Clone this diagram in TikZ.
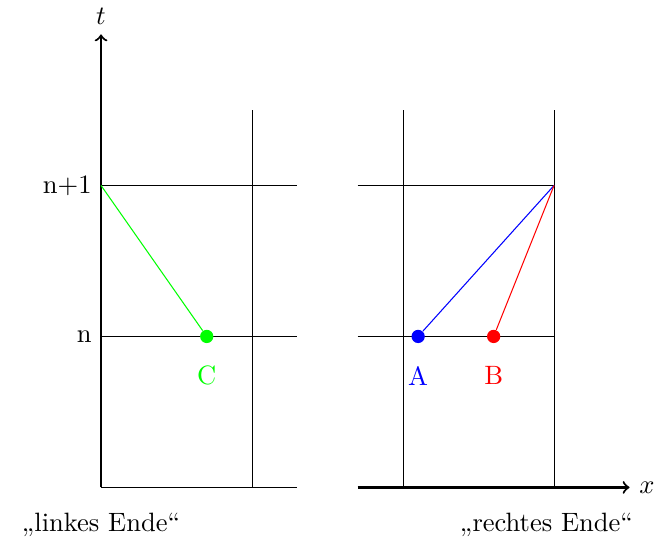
\documentclass[tikz,border=0pt]{standalone}
\usepackage{fontspec}
\begin{document}
\begin{tikzpicture}[x=2cm,y=2cm,
  axis/.style={thick,->},
  gridline/.style={thin,black},
  dot/.style={circle,fill,inner sep=0pt,minimum size=5pt}]
\useasboundingbox (-0.669,-0.394) rectangle (3.695,3.228);
% coordinates
\coordinate (O) at (0,0);
\coordinate (T) at (0,3);
\coordinate (P) at (0,2);
\coordinate (Q) at (3,2);
\coordinate (XS) at (1.7,0);
\coordinate (XE) at (3.5,0);
% left grid
\draw[gridline] (0,0) -- (1.3,0);
\draw[gridline] (0,1) -- (1.3,1);
\draw[gridline] (0,2) -- (1.3,2);
\draw[gridline] (1,0) -- (1,2.5);
% right grid
\draw[gridline] (1.7,1) -- (3,1);
\draw[gridline] (1.7,2) -- (3,2);
\draw[gridline] (2,0) -- (2,2.5);
\draw[gridline] (3,0) -- (3,2.5);
% axes
\draw[axis] (O) -- (T) node[above] (tl) {$t$};
\draw[axis] (XS) -- (XE) node[right] (xl) {$x$};
% labels
\node[left] (n1) at (0,2) {n+1};
\node[left] (n0) at (0,1) {n};
% points
\node[dot,green] (C) at (0.7,1) {};
\node[dot,blue] (A) at (2.1,1) {};
\node[dot,red] (B) at (2.6,1) {};
\node[green] (Cl) at (0.7,0.74) {C};
\node[blue] (Al) at (2.1,0.74) {A};
\node[red] (Bl) at (2.6,0.74) {B};
\draw[green] (P) -- (C);
\draw[blue] (A) -- (Q);
\draw[red] (B) -- (Q);
% captions
\node (le) at (0,-0.25) {„linkes Ende“};
\node (re) at (2.95,-0.25) {„rechtes Ende“};
\end{tikzpicture}
\end{document}
